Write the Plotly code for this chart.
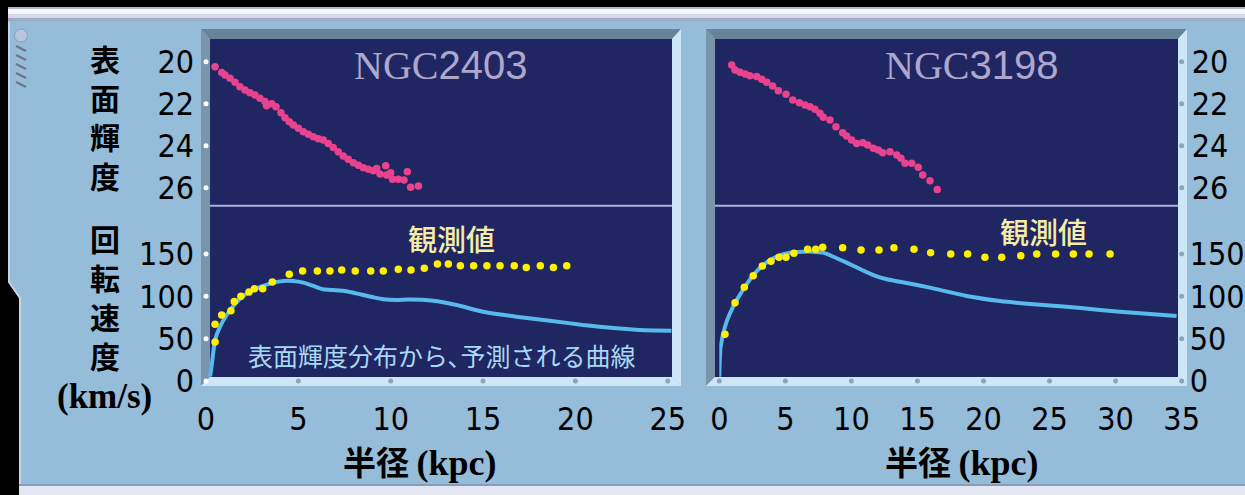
import plotly.graph_objects as go

# ---------------- data ----------------
# NGC2403 surface brightness profile (radius kpc, mag/arcsec^2)
r_sb_2403 = [0.49, 0.85, 1.03, 1.30, 1.57, 1.84, 2.11, 2.38, 2.65, 2.92, 3.19, 3.28,
             3.56, 3.79, 4.06, 4.28, 4.51, 4.73, 5.00, 5.27, 5.54, 5.81, 6.08, 6.35,
             6.62, 6.89, 7.16, 7.43, 7.70, 7.98, 8.25, 8.52, 8.79, 9.06, 9.24, 9.42,
             9.73, 9.78, 10.00, 10.10, 10.41, 10.72, 10.90, 11.08, 11.50]
mu_2403 = [20.24, 20.52, 20.63, 20.79, 20.98, 21.19, 21.35, 21.48, 21.59, 21.74, 21.90, 22.10,
           22.00, 22.14, 22.43, 22.67, 22.86, 23.01, 23.17, 23.33, 23.46, 23.57, 23.67, 23.73,
           23.89, 24.08, 24.29, 24.49, 24.65, 24.81, 24.93, 25.05, 25.12, 25.19, 25.08, 25.35,
           24.95, 25.40, 25.29, 25.60, 25.60, 25.63, 25.24, 25.98, 25.92]

# NGC3198 surface brightness profile
r_sb_3198 = [0.94, 1.19, 1.57, 1.95, 2.32, 2.83, 3.21, 3.59, 4.04, 4.47, 5.05, 5.56,
             6.06, 6.49, 6.87, 7.24, 7.62, 7.87, 8.38, 8.83, 9.34, 9.64, 10.02, 10.40,
             10.86, 11.23, 11.66, 12.04, 12.37, 12.92, 13.43, 13.75, 14.06, 14.56, 15.06,
             15.40, 15.95, 16.50]
mu_3198 = [20.16, 20.40, 20.50, 20.59, 20.67, 20.71, 20.84, 20.98, 21.16, 21.38, 21.55, 21.82,
           21.95, 22.06, 22.14, 22.27, 22.46, 22.65, 22.78, 23.10, 23.38, 23.54, 23.73, 23.89,
           23.86, 23.97, 24.12, 24.20, 24.33, 24.29, 24.44, 24.60, 24.84, 24.84, 25.03,
           25.40, 25.67, 26.08]

# NGC2403 observed rotation velocity (km/s)
r_obs_2403 = [0.49, 0.49, 0.85, 1.35, 1.53, 1.89, 2.33, 2.62, 3.07, 3.59, 4.51, 5.23,
              6.03, 6.71, 7.35, 8.08, 8.92, 9.60, 10.41, 11.10, 11.82, 12.53, 13.12, 13.77,
              14.49, 15.21, 15.92, 16.69, 17.34, 18.10, 18.81, 19.53]
v_obs_2403 = [46, 67, 78, 83, 94, 100, 105, 109, 109, 117, 126, 130,
              130, 130, 131, 130, 130, 130, 132, 131, 133, 138, 138, 136,
              136, 136, 136, 136, 134, 136, 134, 136]

# NGC2403 rotation curve predicted from the light distribution
r_mod_2403 = [0.22, 0.30, 0.49, 0.76, 1.12, 1.48, 2.02, 2.56, 3.10, 3.64, 4.19, 4.73,
              5.27, 5.81, 6.35, 6.89, 7.43, 7.98, 8.52, 9.06, 9.60, 10.30, 11.00, 12.30,
              13.57, 15.00, 16.80, 18.62, 20.42, 22.22, 23.50, 25.20]
v_mod_2403 = [5.3, 16.9, 48.4, 64.1, 77.9, 88.5, 100.4, 107.4, 112.2, 116.1, 118.1, 118.1,
              116.1, 112.2, 108.3, 107.4, 106.6, 104.2, 101.5, 98.8, 96.5, 95.6, 96.2, 94.8,
              89.7, 81.8, 75.9, 71.2, 66.1, 62.2, 60.2, 59.4]

# NGC3198 observed rotation velocity
r_obs_3198 = [0.43, 1.19, 1.89, 2.57, 3.26, 3.91, 4.52, 5.05, 5.65, 6.69, 7.30, 7.83,
              9.34, 10.73, 12.09, 13.22, 14.74, 16.00, 17.52, 18.80, 20.11, 21.38, 22.82,
              24.03, 25.46, 26.80, 27.99, 29.58]
v_obs_3198 = [55.1, 92.4, 110.6, 124.3, 135.8, 141.3, 146.0, 146.0, 150.8, 155.5, 155.5, 157.8,
              157.4, 154.7, 154.7, 157.4, 155.5, 151.5, 149.9, 149.9, 146.0, 146.0, 147.9,
              149.9, 149.9, 149.9, 149.9, 149.9]

# NGC3198 rotation curve predicted from the light distribution
r_mod_3198 = [0.00, 0.10, 0.43, 0.81, 1.32, 1.95, 2.57, 3.33, 4.09, 4.84, 5.60, 6.36,
              7.12, 7.87, 8.63, 9.64, 10.65, 11.66, 12.67, 13.68, 16.20, 18.73, 21.25,
              23.77, 26.30, 28.82, 31.34, 34.62]
v_mod_3198 = [5.0, 40.5, 64.1, 79.9, 95.6, 111.3, 125.1, 136.9, 144.9, 149.6, 151.9, 152.7,
              152.7, 151.5, 146.7, 139.7, 132.2, 125.1, 120.1, 117.2, 109.4, 100.4, 94.4,
              90.6, 87.7, 83.8, 80.6, 76.7]

SB_TICKS = [20, 22, 24, 26]
V_TICKS = [0, 50, 100, 150]
X_TICKS_2403 = [0, 5, 10, 15, 20, 25]
X_TICKS_3198 = [0, 5, 10, 15, 20, 25, 30, 35]

# ---------------- page geometry (pixels) ----------------
W, H = 1245, 495


def fx(x):
    return x / W


def fy(y):
    return 1 - y / H


# pixel calibration of the plotting frames
L_X0, L_XPX = 206.0, 18.47      # NGC2403 radius axis: origin px, px per kpc
R_X0, R_XPX = 719.3, 13.21      # NGC3198 radius axis
MU_Y20, MU_PX = 61.7, 21.0      # surface brightness: y of 20 mag, px per mag
V_Y0, V_PX = 381.0, 0.847       # velocity: y of 0 km/s, px per km/s
TOP, MID = 39.0, 205.7          # top of navy area, divider line

mu_range = [20 + (MID - MU_Y20) / MU_PX, 20 - (MU_Y20 - TOP) / MU_PX]
v_range = [0, (V_Y0 - MID) / V_PX]
L_XR = [0, (672 - L_X0) / L_XPX]
R_XR = [0, 35]

NAVY = "#202661"
BG = "#95bcd9"
BEVEL_TOP = "#66839a"
BEVEL_LEFT = "#7995ac"
STRIP = "#cde6f8"
PINK = "#e9438f"
YELLOW = "#fff000"
CYAN = "#57b9ec"
DOT_GRAY = "#8ea3b6"

NUM_FONT = "Liberation Sans Narrow, DejaVu Sans Condensed, Arial Narrow, sans-serif"
JP_FONT = "Noto Sans CJK JP"


def path(points, close=True):
    p = "M" + " L".join(f"{fx(x):.5f},{fy(y):.5f}" for x, y in points)
    return p + " Z" if close else p


def poly(points, fill):
    return dict(type="path", xref="paper", yref="paper", path=path(points),
                fillcolor=fill, line=dict(width=0), layer="below")


def rect(x0, y0, x1, y1, fill):
    return dict(type="rect", xref="paper", yref="paper", x0=fx(x0), x1=fx(x1),
                y0=fy(y1), y1=fy(y0), fillcolor=fill, line=dict(width=0), layer="below")


def seg(x0, y0, x1, y1, color, width):
    return dict(type="line", xref="paper", yref="paper", x0=fx(x0), x1=fx(x1),
                y0=fy(y0), y1=fy(y1), line=dict(color=color, width=width), layer="below")


def panel(ol, il, ir, orr, ot=29, it=TOP, ib=377, ob=386):
    return [
        poly([(ol, ot), (orr, ot), (ir, it), (il, it)], BEVEL_TOP),
        poly([(ol, ot), (il, it), (il, ib), (ol, ob)], BEVEL_LEFT),
        poly([(ir, it), (orr, ot), (orr, ob), (ir, ib)], STRIP),
        poly([(ol, ob), (il, ib), (ir, ib), (orr, ob)], STRIP),
        rect(il, it, ir, ib, NAVY),
        seg(il, MID, ir, MID, "#a9b2dc", 2),
    ]


shapes = [
    poly([(8, 21), (W, 21), (W, 485), (19, 485), (19, 298), (8, 282)], BG),
    dict(type="path", xref="paper", yref="paper",
         path=path([(9, 21), (9, 282), (20, 298), (20, 485)], close=False),
         line=dict(color="#c9d4e6", width=2), layer="below"),
    rect(8, 7, W, 9, "#b3b8d0"),
    rect(8, 9, W, 14, "#f4f6fa"),
    rect(8, 14, W, 18, "#d3d9e8"),
    rect(8, 18, W, 21.5, "#a0abca"),
    rect(19, 484, W, 486, "#8c9bbd"),
    rect(19, 486, W, H, "#e2e7f1"),
    dict(type="circle", xref="paper", yref="paper", x0=fx(14.5), x1=fx(27.5),
         y0=fy(42), y1=fy(29), fillcolor="#b9c5dc", line=dict(color="#8e9cba", width=1),
         layer="below"),
]
for hy in [46, 55, 64, 73, 82]:
    shapes.append(seg(16, hy, 26, hy + 5, "#6f7788", 2.5))
shapes += panel(201, 210, 672, 681)
shapes += panel(706, 715, 1178, 1187)

fig = go.Figure()

# surface brightness
fig.add_trace(go.Scatter(x=r_sb_2403, y=mu_2403, xaxis="x2", yaxis="y2", mode="markers",
                         marker=dict(color=PINK, size=7.5), hoverinfo="skip"))
fig.add_trace(go.Scatter(x=r_sb_3198, y=mu_3198, xaxis="x4", yaxis="y4", mode="markers",
                         marker=dict(color=PINK, size=7.5), hoverinfo="skip"))
# predicted rotation curves
fig.add_trace(go.Scatter(x=r_mod_2403, y=v_mod_2403, xaxis="x", yaxis="y", mode="lines",
                         line=dict(color=CYAN, width=4, shape="spline", smoothing=0.6),
                         hoverinfo="skip"))
fig.add_trace(go.Scatter(x=r_mod_3198, y=v_mod_3198, xaxis="x3", yaxis="y3", mode="lines",
                         line=dict(color=CYAN, width=4, shape="spline", smoothing=0.6),
                         hoverinfo="skip"))
# observed rotation velocities
fig.add_trace(go.Scatter(x=r_obs_2403, y=v_obs_2403, xaxis="x", yaxis="y", mode="markers",
                         marker=dict(color=YELLOW, size=7.5), hoverinfo="skip"))
fig.add_trace(go.Scatter(x=r_obs_3198, y=v_obs_3198, xaxis="x3", yaxis="y3", mode="markers",
                         marker=dict(color=YELLOW, size=7.5), hoverinfo="skip"))


def tick_dots(xs, ys, xa, ya, color):
    fig.add_trace(go.Scatter(x=xs, y=ys, xaxis=xa, yaxis=ya, mode="markers", cliponaxis=False,
                             marker=dict(color=color, size=5), hoverinfo="skip"))


tick_dots([0] * len(V_TICKS), V_TICKS, "x", "y", "white")
tick_dots([0] * len(SB_TICKS), SB_TICKS, "x2", "y2", "white")
tick_dots(X_TICKS_2403[1:], [0] * (len(X_TICKS_2403) - 1), "x", "y", DOT_GRAY)
tick_dots([35] * len(V_TICKS), V_TICKS, "x3", "y3", DOT_GRAY)
tick_dots([35] * len(SB_TICKS), SB_TICKS, "x4", "y4", DOT_GRAY)
tick_dots(X_TICKS_3198[:-1], [0] * (len(X_TICKS_3198) - 1), "x3", "y3", DOT_GRAY)

tickfont = dict(family=NUM_FONT, size=32, color="black")
common = dict(showgrid=False, zeroline=False, showline=False, ticks="", tickfont=tickfont,
              fixedrange=True, automargin=False)
hidden = dict(visible=False, automargin=False, fixedrange=True)

fig.update_layout(
    width=W, height=H, autosize=False, margin=dict(l=0, r=0, t=0, b=0, pad=0),
    paper_bgcolor="black", plot_bgcolor="rgba(0,0,0,0)", showlegend=False,
    shapes=shapes,
    xaxis=dict(domain=[fx(L_X0), fx(672)], range=L_XR, anchor="y", tickvals=X_TICKS_2403,
               ticklabelstandoff=16, **common),
    yaxis=dict(domain=[fy(V_Y0), fy(MID)], range=v_range, anchor="x", tickvals=V_TICKS,
               ticklabelstandoff=11, **common),
    xaxis2=dict(domain=[fx(L_X0), fx(672)], range=L_XR, anchor="y2", **hidden),
    yaxis2=dict(domain=[fy(MID), fy(TOP)], range=mu_range, anchor="x2", tickvals=SB_TICKS,
                ticklabelstandoff=11, **common),
    xaxis3=dict(domain=[fx(R_X0), fx(R_X0 + 35 * R_XPX)], range=R_XR, anchor="y3",
                tickvals=X_TICKS_3198, ticklabelstandoff=16, **common),
    yaxis3=dict(domain=[fy(V_Y0), fy(MID)], range=v_range, anchor="x3", side="right",
                tickvals=V_TICKS, ticklabelstandoff=7, **common),
    xaxis4=dict(domain=[fx(R_X0), fx(R_X0 + 35 * R_XPX)], range=R_XR, anchor="y4", **hidden),
    yaxis4=dict(domain=[fy(MID), fy(TOP)], range=mu_range, anchor="x4", side="right",
                tickvals=SB_TICKS, ticklabelstandoff=9, **common),
)


def note(x, y, text, size, color, family=JP_FONT, weight="normal", **kw):
    fig.add_annotation(x=fx(x), y=fy(y), xref="paper", yref="paper", text=text,
                       showarrow=False, xanchor="center", yanchor="middle",
                       font=dict(family=family, size=size, color=color, weight=weight), **kw)


# stacked vertical axis titles
note(105, 117, "<br>".join("表面輝度"), 30, "black", weight="bold")
note(105, 296, "<br>".join("回転速度"), 30, "black", weight="bold")
note(104, 396, "(km/s)", 35, "black", family="Liberation Serif", weight="bold")

xtitle = '半径 <span style="font-family:Liberation Serif;font-size:36px">(kpc)</span>'
note(420, 461, xtitle, 33, "black", weight="bold")
note(962, 461, xtitle, 33, "black", weight="bold")

ngc = '<span style="font-family:Liberation Serif">NGC</span>{}'
note(440, 66, ngc.format("2403"), 40, "#aea7cd", family="Liberation Sans")
note(971, 66, ngc.format("3198"), 40, "#aea7cd", family="Liberation Sans")

note(452, 238, "観測値", 29, "#f5eca8", weight=500)
note(1043, 231, "観測値", 29, "#f5eca8", weight=500)
note(442, 355, "表面輝度分布から､予測される曲線", 25, "#a8d8f4")

fig.write_html("out.html")
